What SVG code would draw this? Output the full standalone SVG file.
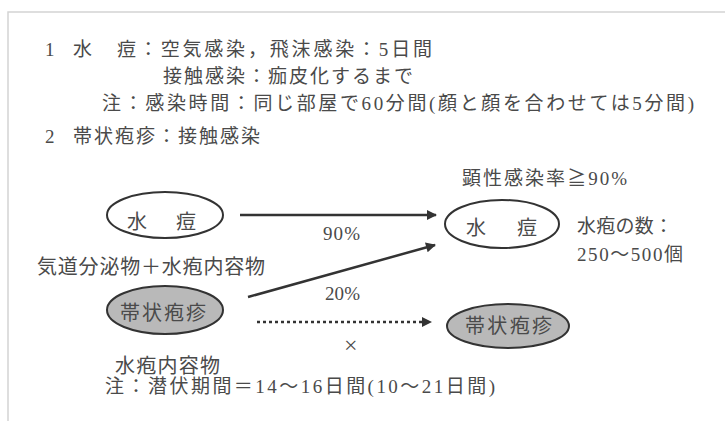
<svg xmlns="http://www.w3.org/2000/svg" width="725" height="421" viewBox="0 0 725 421">
<defs>
<style>
.t{font-family:"Liberation Serif","Noto Sans CJK JP",serif;font-size:19px;fill:#4a4a4a}
.l{font-size:20px}
.e{fill:#fff;stroke:#333;stroke-width:2}
.g{fill:#b9b9b9;stroke:#333;stroke-width:2}
.c{stroke:#333;stroke-width:2.5;fill:none}
.frame{stroke:#d4d4d4;stroke-width:1.5;fill:none}
</style>
<marker id="ah" viewBox="0 0 10 10" refX="9" refY="5" markerWidth="5" markerHeight="4" orient="auto" markerUnits="strokeWidth">
<path d="M0,0 L10,5 L0,10 z" fill="#333"/>
</marker>
</defs>
<rect width="725" height="421" fill="#fff"/>
<path class="frame" d="M8,421 V12 H725"/>

<g id="notes">
<text class="t" x="45" y="56">1</text>
<text class="t" x="73" y="56">水</text>
<text class="t" x="117" y="56" textLength="315" lengthAdjust="spacing">痘：空気感染，飛沫感染：5日間</text>
<text class="t" x="163" y="83" textLength="250" lengthAdjust="spacing">接触感染：痂皮化するまで</text>
<text class="t" x="102" y="110" textLength="592" lengthAdjust="spacing">注：感染時間：同じ部屋で60分間(顔と顔を合わせては5分間)</text>
<text class="t" x="45" y="143">2</text>
<text class="t" x="73" y="143" textLength="187" lengthAdjust="spacing">帯状疱疹：接触感染</text>
</g>

<g id="connectors">
<line class="c" x1="240" y1="215" x2="436" y2="215" marker-end="url(#ah)"/>
<line class="c" x1="248" y1="297" x2="435" y2="245" marker-end="url(#ah)"/>
<line class="c" x1="257" y1="322" x2="431" y2="322" stroke-dasharray="3 3" marker-end="url(#ah)"/>
<text class="t" x="323" y="240" textLength="37">90%</text>
<text class="t" x="325" y="300" textLength="35">20%</text>
<text class="t" x="344" y="353" style="font-size:24px">×</text>
</g>

<g id="n-varicella-src">
<ellipse class="e" cx="165" cy="215" rx="58" ry="23"/>
<text class="t l" x="127" y="229">水</text>
<text class="t l" x="176" y="229">痘</text>
<text class="t l" x="37" y="274" textLength="228" lengthAdjust="spacing">気道分泌物＋水疱内容物</text>
</g>

<g id="n-zoster-src">
<ellipse class="g" cx="165" cy="310" rx="58" ry="24"/>
<text class="t l" x="120" y="320" textLength="86" lengthAdjust="spacing">帯状疱疹</text>
<text class="t l" x="115" y="373" textLength="105" lengthAdjust="spacing">水疱内容物</text>
</g>

<g id="n-varicella-dst">
<text class="t" x="462" y="185" textLength="165" lengthAdjust="spacing">顕性感染率≧90%</text>
<ellipse class="e" cx="502" cy="224" rx="57" ry="24"/>
<text class="t l" x="466" y="235">水</text>
<text class="t l" x="517" y="235">痘</text>
<text class="t" x="577" y="233" textLength="96" lengthAdjust="spacing">水疱の数：</text>
<text class="t" x="577" y="261" textLength="106" lengthAdjust="spacing">250〜500個</text>
</g>

<g id="n-zoster-dst">
<ellipse class="g" cx="508" cy="326" rx="61" ry="22"/>
<text class="t l" x="465" y="333" textLength="87" lengthAdjust="spacing">帯状疱疹</text>
</g>

<g id="footnote">
<text class="t" x="105" y="393" textLength="390" lengthAdjust="spacing">注：潜伏期間＝14〜16日間(10〜21日間)</text>
</g>
</svg>
